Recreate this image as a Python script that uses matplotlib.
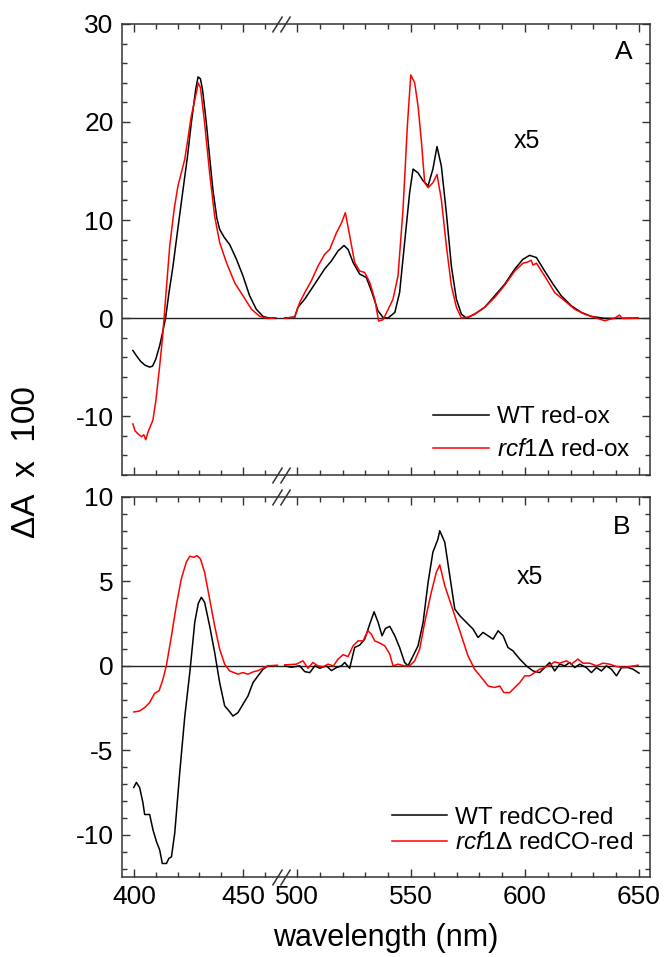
import matplotlib
matplotlib.use("Agg")
import matplotlib.pyplot as plt
import matplotlib.transforms as mtransforms
import numpy as np
from matplotlib.path import Path
from matplotlib.ticker import MultipleLocator

plt.rcParams["font.family"] = ["Liberation Sans", "DejaVu Sans"]
plt.rcParams["mathtext.fontset"] = "custom"
plt.rcParams["mathtext.rm"] = "Liberation Sans"
plt.rcParams["mathtext.it"] = "Liberation Sans:italic"
plt.rcParams["axes.unicode_minus"] = False

# ---- A: reduced minus oxidised spectra (x5 beyond the break) ----
a_wt_x = [399.5, 401, 403, 405, 407.2, 408.5, 410, 411.8, 413, 414.5, 416, 417.9,
          420, 422.5, 424.5, 426.3, 428.3, 429.4, 430.5, 431.5, 433.2, 434.8, 436.2,
          438, 439.3, 441.5, 443.9, 447, 450, 453, 456.1, 459.2, 462, 465,
          494.6, 499, 500.4, 503.4, 506.3, 509.2, 512.1, 515.1, 518, 520.6, 522.4,
          524.6, 527.5, 530.4, 532.9, 535.5, 537.7, 539.9, 542.9, 545, 547.2, 549.4,
          550.9, 553.1, 555.3, 557.5, 559.6, 561.4, 563.3, 565.5, 567.7, 569.9, 572.1,
          574.3, 577.9, 582.3, 586.7, 591.1, 595.5, 599.1, 602, 605, 608.6, 612.3,
          615.9, 620.3, 624.7, 629.1, 634.9, 640.8, 649.6]
a_wt_y = [-3.3, -3.8, -4.4, -4.8, -5.0, -4.9, -4.2, -2.8, -1.6, 0, 2.5, 5.3,
          8.9, 13.1, 16.4, 19.9, 23.3, 24.6, 24.4, 23.2, 19.9, 16.2, 13.1,
          10.2, 9.05, 8.2, 7.5, 6.0, 4.3, 2.3, 0.9, 0.17, 0, 0,
          0, 0.1, 1.1, 1.93, 2.95, 3.97, 5.0, 5.83, 6.85, 7.4, 7.0,
          5.67, 4.48, 4.14, 2.6, 0.75, 0.07, 0, 0.58, 2.6, 7.7, 12.8,
          15.2, 14.8, 14.0, 13.5, 15.2, 17.5, 15.5, 10.75, 5.3, 1.93, 0.4,
          0, 0.4, 1.1, 2.27, 3.46, 5.0, 6.0, 6.4, 6.17, 4.8, 3.46,
          2.27, 1.25, 0.58, 0.17, -0.03, -0.03, 0]

a_rcf_x = [399.5, 400.5, 401.8, 403.5, 404.5, 405.4, 406.5, 408.7, 410, 411.8, 413,
           413.8, 416.4, 418.5, 420.2, 423.3, 426.3, 428.9, 429.4, 430.5, 432.4,
           434.7, 437, 439.3, 442.4, 446.2, 450, 453.9, 457.7, 461.5, 464.5,
           494.6, 499, 501.2, 503.4, 506.3, 509.2, 512.1, 514.3, 517.3, 519.5, 521.2,
           523.1, 525.3, 527.5, 529.7, 531.9, 534.1, 535.8, 537.7, 539.9, 542.1,
           544.3, 546.5, 548.4, 549.9, 551.6, 553.1, 554.6, 556, 557.5, 559.6, 561.4,
           563.3, 565.5, 567.7, 569.9, 572.1, 575, 577.9, 582.3, 586.7, 591.1, 595.5,
           599.1, 601, 602.7, 603.5, 605, 608.6, 613, 617.4, 621.8, 626.1, 630.5,
           634.9, 639.3, 641.5, 642.5, 646.6, 649.6]
a_rcf_y = [-10.8, -11.5, -11.8, -12.1, -11.9, -12.4, -11.6, -10.4, -8.5, -4.85, -2.2,
           0, 7.36, 11.2, 13.5, 16.2, 20.6, 23.3, 24.0, 23.5, 19.9,
           14.8, 10.4, 7.7, 5.67, 3.6, 2.27, 0.9, 0.17, -0.03, 0,
           0, 0.1, 1.6, 2.6, 3.8, 5.3, 6.5, 7.0, 8.7, 9.7, 10.75,
           8.4, 5.67, 4.8, 4.65, 3.63, 1.93, -0.3, -0.17, 0.85, 1.93,
           4.3, 11.1, 19.6, 24.8, 24.0, 21.6, 17.9, 13.8, 13.3, 13.8, 14.65,
           12.1, 7.36, 3.3, 1.1, 0, 0.1, 0.4, 1.1, 2.1, 3.36, 4.8,
           5.6, 5.7, 5.9, 5.4, 5.6, 4.3, 2.6, 1.76, 0.9, 0.4, 0.07,
           -0.27, 0, 0.3, -0.03, -0.03, 0]

# ---- B: CO-reduced minus reduced spectra (x5 beyond the break) ----
b_wt_x = [399.9, 401.1, 402.6, 404.1, 404.9, 407.2, 408.7, 410.3, 411.8, 413, 414.9,
          416, 417.2, 418.7, 421, 423.3, 425.6, 427.9, 429.5, 430.9, 432.4, 434.7,
          437, 439.3, 441.6, 443.6, 445.4, 447.7, 450, 452.3, 454.6, 456.9, 459.2,
          461.5, 463.8,
          494.6, 497.5, 501.2, 503.4, 505.6, 507.8, 510, 512.9, 515.1, 517.3, 519.5,
          520.9, 523.1, 525.3, 527.5, 529.7, 531.9, 533.8, 535.6, 537.3, 538.8, 540.7,
          542.9, 545, 547.2, 548.7, 550.9, 553.1, 555.3, 557.5, 559.6, 561.8, 562.6,
          564.8, 567, 569.2, 571.4, 574.3, 577.2, 579.4, 581.6, 583.8, 586, 588.2,
          590.4, 592.5, 594.7, 597.7, 600.6, 603.5, 606.4, 608.6, 610.8, 613, 615.2,
          617.4, 619.6, 621.8, 624, 626.9, 629.1, 631.3, 633.5, 635.7, 637.9, 640.1,
          642.3, 645.2, 647.4, 650]
b_wt_y = [-7.2, -6.9, -7.2, -8.1, -8.8, -8.8, -9.7, -10.4, -10.9, -11.7, -11.7,
          -11.4, -11.3, -9.9, -6.3, -3.0, -0.4, 2.6, 3.7, 4.06, 3.76, 2.37,
          0.8, -0.99, -2.37, -2.67, -2.97, -2.77, -2.27, -1.78, -0.99, -0.59, -0.2,
          0, 0,
          0, -0.08, 0, -0.34, -0.4, 0, -0.14, 0, -0.28, -0.1, 0,
          0.2, -0.14, 1.09, 1.23, 1.58, 2.47, 3.2, 2.57, 1.78, 2.22, 2.34,
          1.78, 1.09, 0.2, 0, 0.59, 1.19, 2.57, 4.95, 6.73, 7.5, 8.0,
          7.32, 5.34, 3.36, 2.97, 2.57, 2.18, 1.68, 1.98, 1.78, 1.58, 2.08,
          1.78, 1.09, 0.89, 0.4, 0, -0.3, -0.4, -0.1, 0.2, -0.3, 0.1,
          0, 0.2, -0.1, 0.1, -0.1, -0.4, -0.1, -0.3, 0, -0.2, -0.59,
          -0.1, -0.1, -0.2, -0.43]

b_rcf_x = [399.9, 402.6, 404.9, 407.2, 409.5, 411.5, 413.3, 414.9, 417.2, 419.4,
           421.7, 424, 425.6, 427.4, 428.9, 430.5, 432.4, 434.7, 437, 439.3, 441.6,
           443.9, 447.7, 450, 452.3, 454.6, 456.9, 459.2, 461.5, 465.8,
           494.6, 499.7, 502.6, 504.8, 507, 509.2, 511.5, 513.6, 516, 518, 520.2,
           522.4, 524.6, 526.8, 529, 531.1, 532.6, 534.1, 536.3, 538.5, 540.7, 542.1,
           544.3, 547.2, 549.4, 551.6, 553.8, 556, 558.9, 561.1, 562.6, 564.8, 567,
           569.2, 572.1, 575, 577.9, 580.9, 583.8, 586.7, 588.9, 590.7, 593.3, 595.5,
           597.7, 599.9, 602.1, 604.2, 606.4, 608.6, 610.8, 613, 615.2, 618.2, 620.3,
           623.2, 625.4, 628.4, 631.3, 634.2, 637.1, 640.1, 643, 646, 649.6]
b_rcf_y = [-2.73, -2.67, -2.47, -2.17, -1.62, -1.48, -0.79, 0.04, 1.78, 3.56,
           5.15, 6.14, 6.49, 6.43, 6.53, 6.33, 5.54, 3.96, 2.37, 0.99, 0.1,
           -0.3, -0.49, -0.4, -0.49, -0.36, -0.28, -0.14, 0, 0.04,
           0.06, 0.1, 0.3, -0.14, 0.2, 0, -0.05, 0.1, 0, 0.4, 0.66,
           0.55, 1.19, 1.48, 1.48, 2.08, 1.88, 1.48, 1.35, 1.19, 0.69, 0,
           0.1, 0, 0, 0.3, 0.99, 2.57, 4.36, 5.54, 5.98, 4.75, 3.86,
           2.97, 1.78, 0.59, -0.2, -0.69, -1.19, -1.28, -1.19, -1.58, -1.58, -1.28,
           -0.99, -0.59, -0.59, -0.4, -0.2, -0.1, 0.04, 0.24, 0.16, 0.3, 0.1,
           0.4, 0.16, 0.16, 0, 0.16, 0.1, -0.04, -0.1, -0.04, 0.04]

major_x = [400, 450, 500, 550, 600, 650]
minor_x = [410, 420, 430, 440, 460] + list(range(510, 650, 10))

# scale break between the Soret and the visible region
BREAK_LO, BREAK_HI = 466.0, 494.0
K_LO, K_HI = 2.18, 2.28
U_LO = (BREAK_LO - 400) * K_LO
U_HI = 163 + (BREAK_HI - 500) * K_HI
K_MID = (U_HI - U_LO) / (BREAK_HI - BREAK_LO)


def fwd(x):
  x = np.asarray(x, dtype=float)
  return np.where(x <= BREAK_LO, (x - 400) * K_LO,
                  np.where(x >= BREAK_HI, 163 + (x - 500) * K_HI,
                           U_LO + (x - BREAK_LO) * K_MID))


def inv(u):
  u = np.asarray(u, dtype=float)
  return np.where(u <= U_LO, 400 + u / K_LO,
                  np.where(u >= U_HI, 500 + (u - 163) / K_HI,
                           BREAK_LO + (u - U_LO) / K_MID))


# two slanted strokes marking the break
slash = Path([(-9, -8), (1, 8), (-1, -8), (9, 8)],
             [Path.MOVETO, Path.LINETO, Path.MOVETO, Path.LINETO])


def plot_split(ax, x, y, **kw):
  x = np.asarray(x)
  y = np.asarray(y)
  lo = x < 480
  line, = ax.plot(x[lo], y[lo], **kw)
  kw.pop("label", None)
  ax.plot(x[~lo], y[~lo], **kw)
  return line


def style_axis(ax, ylim, major_y, minor_y):
  ax.set_xscale("function", functions=(fwd, inv))
  ax.set_xlim(394.5, 654.8)
  ax.set_ylim(*ylim)
  ax.set_xticks(major_x)
  ax.set_xticks(minor_x, minor=True)
  ax.yaxis.set_major_locator(MultipleLocator(major_y))
  ax.yaxis.set_minor_locator(MultipleLocator(minor_y))
  ax.tick_params(which="both", direction="in", top=True, right=True,
                 labelsize=19, color="#333333", width=1.0)
  ax.tick_params(which="major", length=6)
  ax.tick_params(which="minor", length=3.5)
  ax.tick_params(axis="y", pad=6)
  ax.tick_params(axis="x", pad=6)
  for sp in ax.spines.values():
    sp.set_linewidth(1.1)
    sp.set_color("#333333")
  ax.axhline(0, color="#222222", lw=1.0, zorder=1)
  trans = mtransforms.blended_transform_factory(ax.transData, ax.transAxes)
  ax.plot([480, 480], [0, 1], transform=trans, marker=slash, markersize=13,
          markeredgewidth=1.1, color="#333333", linestyle="none",
          clip_on=False, zorder=5)


fig = plt.figure(figsize=(6.64, 9.57), dpi=100)
ax_a = fig.add_axes([0.1837, 0.5037, 0.7952, 0.4713])
ax_b = fig.add_axes([0.1837, 0.0836, 0.7952, 0.3971])

style_axis(ax_a, (-16, 30), 10, 2)
style_axis(ax_b, (-12.5, 10), 5, 1)
ax_a.tick_params(labelbottom=False)

plot_split(ax_a, a_wt_x, a_wt_y, color="black", lw=1.1, label="WT red-ox")
plot_split(ax_a, a_rcf_x, a_rcf_y, color="red", lw=1.1,
           label=r"$\mathit{rcf1}$Δ red-ox")
plot_split(ax_b, b_wt_x, b_wt_y, color="black", lw=1.1, label="WT redCO-red")
plot_split(ax_b, b_rcf_x, b_rcf_y, color="red", lw=1.1,
           label=r"$\mathit{rcf1}$Δ redCO-red")

ax_a.legend(loc="lower right", bbox_to_anchor=(0.963, 0.03), frameon=False,
            fontsize=17.5, handlelength=2.3, handletextpad=0.3, labelspacing=0.45,
            borderpad=0, borderaxespad=0)
ax_b.legend(loc="lower right", bbox_to_anchor=(0.968, 0.06), frameon=False,
            fontsize=17.5, handlelength=2.3, handletextpad=0.3, labelspacing=0.15,
            borderpad=0, borderaxespad=0)

ax_a.text(0.951, 0.938, "A", transform=ax_a.transAxes, fontsize=19,
          ha="center", va="center")
ax_b.text(0.947, 0.921, "B", transform=ax_b.transAxes, fontsize=19,
          ha="center", va="center")
ax_a.text(0.767, 0.741, "x5", transform=ax_a.transAxes, fontsize=18,
          ha="center", va="center")
ax_b.text(0.773, 0.789, "x5", transform=ax_b.transAxes, fontsize=18,
          ha="center", va="center")

fig.text(27 / 664, 1 - 462 / 957, "ΔA  x  100", rotation=90, fontsize=24,
         ha="center", va="center")
fig.text(386 / 664, 1 - 938 / 957, "wavelength (nm)", fontsize=22,
         ha="center", va="center")

fig.savefig("out.png", dpi=100)
